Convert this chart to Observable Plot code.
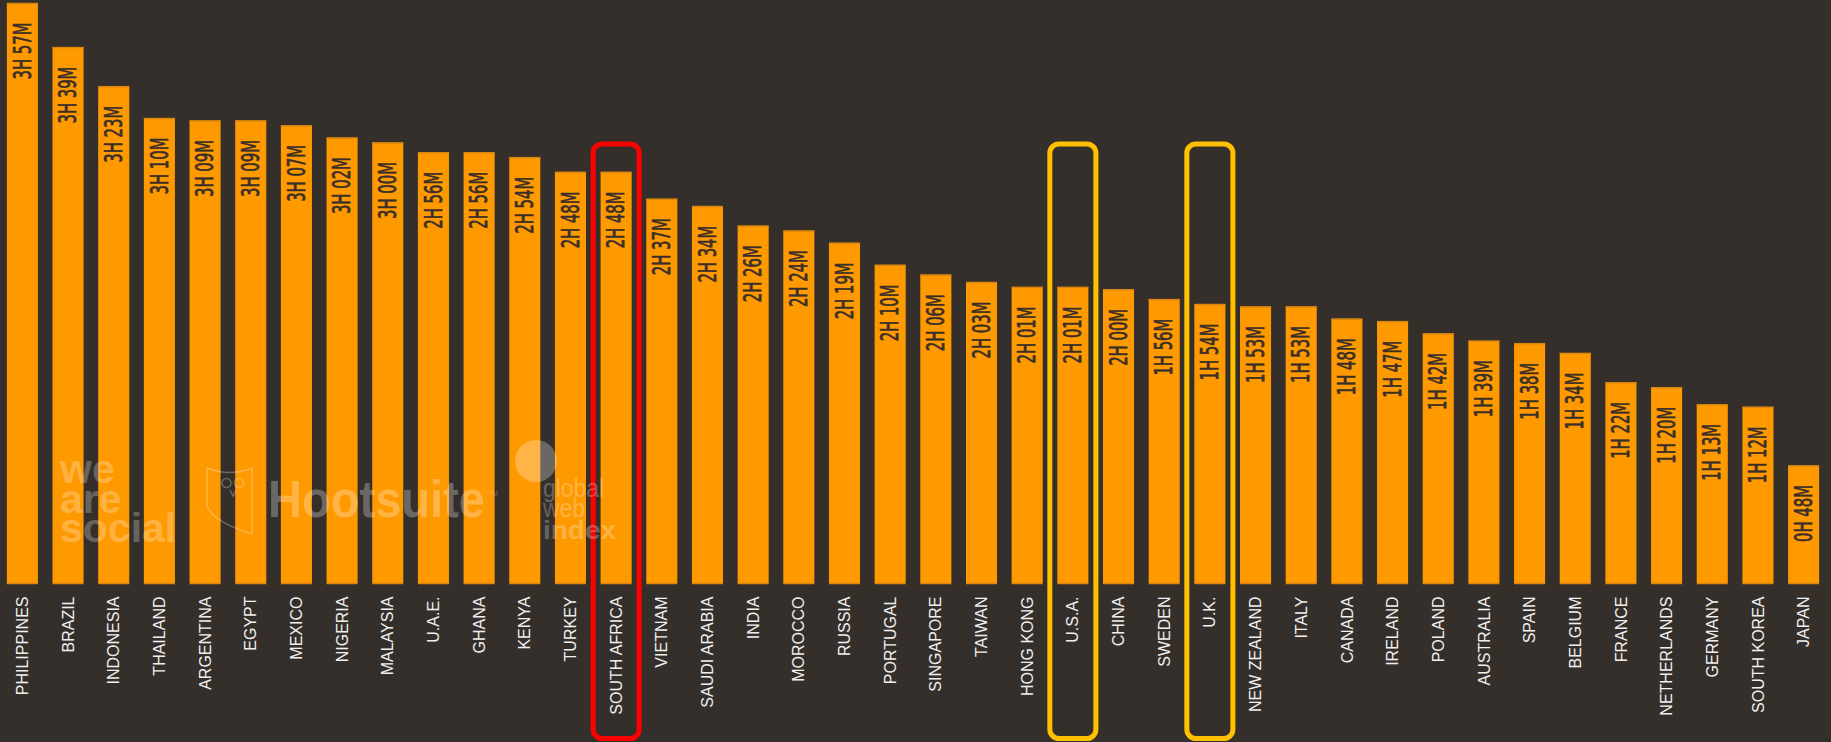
<!DOCTYPE html>
<html><head><meta charset="utf-8">
<script src="https://cdn.jsdelivr.net/npm/d3@7"></script>
<script src="https://cdn.jsdelivr.net/npm/@observablehq/plot@0.6"></script>
<style>
html,body{margin:0;padding:0;background:#352f2b;}
#chart{width:1831px;height:742px;overflow:hidden;}
svg{display:block;}
</style></head><body><div id="chart"></div>
<script>
const countries = ["PHILIPPINES","BRAZIL","INDONESIA","THAILAND","ARGENTINA","EGYPT","MEXICO","NIGERIA","MALAYSIA","U.A.E.","GHANA","KENYA","TURKEY","SOUTH AFRICA","VIETNAM","SAUDI ARABIA","INDIA","MOROCCO","RUSSIA","PORTUGAL","SINGAPORE","TAIWAN","HONG KONG","U.S.A.","CHINA","SWEDEN","U.K.","NEW ZEALAND","ITALY","CANADA","IRELAND","POLAND","AUSTRALIA","SPAIN","BELGIUM","FRANCE","NETHERLANDS","GERMANY","SOUTH KOREA","JAPAN"];
// daily time on social media, minutes
const minutes = [237,219,203,190,189,189,187,182,180,176,176,174,168,168,157,154,146,144,139,130,126,123,121,121,120,116,114,113,113,108,107,102,99,98,94,82,80,73,72,48];
const highlightRed = ["SOUTH AFRICA"];
const highlightYellow = ["U.S.A.","U.K."];

const fmt = m => `${Math.floor(m/60)}H ${String(m%60).padStart(2,"0")}M`;
const data = countries.map((c,i) => ({country:c, minutes:minutes[i], label:fmt(minutes[i])}));

const valueFont = "'Liberation Sans Narrow','DejaVu Sans Condensed','Liberation Sans',sans-serif";
const labelFont = "'Liberation Sans',Arial,sans-serif";

const chart = Plot.plot({
  width:1831, height:742,
  marginTop:3, marginBottom:159, marginLeft:0, marginRight:5,
  style:{background:"#352f2b", color:"#eeeeee"},
  x:{domain:countries, paddingInner:0.32, paddingOuter:0.15, round:false, axis:null},
  y:{domain:[0,237], axis:null},
  marks:[
    Plot.barY(data,{x:"country", y:"minutes", fill:"#ff9900"}),
    Plot.tickY(data,{x:"country", y:"minutes", stroke:"#d9870f", strokeWidth:1.5}),
    Plot.tickY(data,{x:"country", y:0, stroke:"#d9870f", strokeWidth:1.5}),
    Plot.text(data,{x:"country", y:"minutes", text:"label", rotate:-90, textAnchor:"start", lineAnchor:"middle", dy:76, fill:"#3a2f28", stroke:"#3a2f28", strokeWidth:0.7, fontSize:24, fontFamily:valueFont}),
    Plot.text(data,{x:"country", y:0, text:"country", rotate:-90, textAnchor:"end", lineAnchor:"middle", dy:13, fill:"#f0f0f0", fontSize:16, fontFamily:labelFont}),
    Plot.cell(highlightRed,{x:d=>d, fill:"none", stroke:"#ff0000", strokeWidth:5, rx:9, insetTop:141, insetBottom:-155.5, insetLeft:-7.5, insetRight:-7.5}),
    Plot.cell(highlightYellow,{x:d=>d, fill:"none", stroke:"#ffc000", strokeWidth:5, rx:9, insetTop:141, insetBottom:-155.5, insetLeft:-7.5, insetRight:-7.5})
  ]
});
document.getElementById("chart").appendChild(chart);

const svg = d3.select(chart);
// condense the value labels (the original uses a narrow display face)
svg.selectAll("text").filter(function(){ return /^\dH \d\dM$/.test(this.textContent); })
  .each(function(){
    const len = this.getComputedTextLength();
    const t = this.getAttribute("transform") || "";
    this.setAttribute("transform", `${t} scale(${57/len},1)`);
    this.setAttribute("paint-order","stroke");
  });

// partner watermarks
const wmColor = "#ffffff", wmOp = 0.27;
const wm = svg.append("g").attr("fill",wmColor).attr("fill-opacity",wmOp).attr("text-anchor","start")
  .attr("font-family","'Liberation Sans',Arial,sans-serif").attr("font-weight","bold");
[["we",483],["are",513],["social",542]].forEach(([t,y]) => wm.append("text").attr("x",60).attr("y",y).attr("font-size",41).text(t));
wm.append("text").attr("x",268).attr("y",517).attr("font-size",52).attr("textLength",217).attr("lengthAdjust","spacingAndGlyphs").text("Hootsuite");
wm.append("text").attr("x",488).attr("y",496).attr("font-size",7).attr("font-weight","normal").text("TM");
const owl = wm.append("g").attr("fill","none").attr("stroke",wmColor).attr("stroke-opacity",wmOp).attr("stroke-width",1.5);
owl.append("path").attr("d","M207,468 Q229,477 252,468 L252,534 L238,529 Q212,519 207,506 Z");
owl.append("circle").attr("cx",226.5).attr("cy",483).attr("r",4.5);
owl.append("circle").attr("cx",239).attr("cy",483).attr("r",4.5);
owl.append("path").attr("d","M230,490 L233,496 L236,490");
wm.append("circle").attr("cx",536).attr("cy",461).attr("r",21);
wm.append("text").attr("x",543).attr("y",497).attr("font-size",26).attr("font-weight","normal").attr("textLength",61).attr("lengthAdjust","spacingAndGlyphs").text("global");
wm.append("text").attr("x",543).attr("y",517).attr("font-size",26).attr("font-weight","normal").attr("textLength",42).attr("lengthAdjust","spacingAndGlyphs").text("web");
wm.append("text").attr("x",543).attr("y",539).attr("font-size",26).attr("textLength",73).attr("lengthAdjust","spacingAndGlyphs").text("index");
</script></body></html>
